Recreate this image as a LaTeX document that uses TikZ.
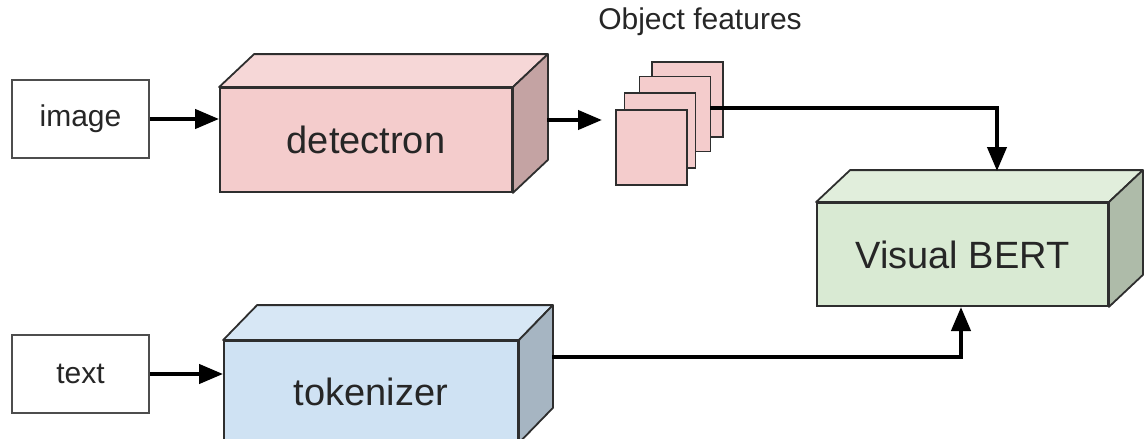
\documentclass[tikz,border=0pt]{standalone}
\usepackage{fontspec}
\setmainfont{Liberation Sans}
\usetikzlibrary{arrows.meta,calc}

\definecolor{edge}{HTML}{2E2E2E}
\definecolor{ink}{HTML}{262626}
\definecolor{detfront}{HTML}{F4CCCC}
\definecolor{dettop}{HTML}{F6D7D7}
\definecolor{detside}{HTML}{C4A3A3}
\definecolor{bertfront}{HTML}{D9EAD3}
\definecolor{berttop}{HTML}{E1EEDC}
\definecolor{bertside}{HTML}{AEBBA9}
\definecolor{tokfront}{HTML}{CFE2F3}
\definecolor{toktop}{HTML}{D7E7F5}
\definecolor{tokside}{HTML}{A6B5C2}

\tikzset{
  inbox/.style={draw=edge!85, line width=1.8pt, fill=white, minimum width=137pt,
    minimum height=78pt, inner sep=0pt, text=ink, font=\fontsize{30}{32}\selectfont},
  cubeface/.style={draw=edge, line width=1.8pt, inner sep=0pt, text=ink,
    font=\fontsize{38}{40}\selectfont},
  featsheet/.style={draw=edge, line width=1.8pt, fill=detfront, inner sep=0pt,
    minimum width=71pt, minimum height=75pt},
  flow/.style={line width=4.2pt, draw=black, -{Triangle[length=24pt,width=19pt]}},
  caption/.style={text=ink, font=\fontsize{30}{32}\selectfont}
}

% top and right faces of a box, drawn from the front face node
\newcommand{\boxsides}[5]{%
  \filldraw[draw=edge, line width=1.8pt, line join=round, fill=#4]
    (#1.north west) -- ++(#2,-#3) -- ($(#1.north east)+(#2,-#3)$) -- (#1.north east) -- cycle;
  \filldraw[draw=edge, line width=1.8pt, line join=round, fill=#5]
    (#1.north east) -- ++(#2,-#3) -- ($(#1.south east)+(#2,-#3)$) -- (#1.south east) -- cycle;
}

\begin{document}
\begin{tikzpicture}[x=1pt, y=-1pt]
  \useasboundingbox (0,0) rectangle (1144,439);
  \clip (0,0) rectangle (1144,439);

  % inputs
  \node[inbox] (img) at (80.5,119) {image};
  \node[inbox] (txt) at (80.5,374) {text};

  % detectron
  \node[cubeface, fill=detfront, minimum width=292pt, minimum height=104pt] (det) at (366,140) {detectron};
  \boxsides{det}{35}{33}{dettop}{detside}

  % tokenizer
  \node[cubeface, fill=tokfront, minimum width=294pt, minimum height=101pt] (tok) at (371,391.5) {\raisebox{-3pt}{tokenizer}};
  \boxsides{tok}{34}{35}{toktop}{tokside}

  % Visual BERT
  \node[cubeface, fill=bertfront, minimum width=291pt, minimum height=103pt] (bert) at (962.5,254.5) {\raisebox{-2pt}{Visual BERT}};
  \boxsides{bert}{34}{32}{berttop}{bertside}

  % stack of object feature maps
  \node[featsheet] (f1) at (687.5,99.5) {};
  \node[featsheet] (f2) at (675,114) {};
  \node[featsheet] (f3) at (660,130.5) {};
  \node[featsheet] (f4) at (651.5,147.5) {};
  \node[caption] (cap) at (700,22) {Object features};

  % connectors
  \coordinate (detout) at (547,120);
  \coordinate (featin) at (602,120);
  \coordinate (featout) at (710,108);
  \coordinate (bertin) at (997,171);
  \coordinate (tokout) at (552,357);
  \coordinate (bertlow) at (961,307);

  \draw[flow] (img.east) -- (det.west |- img.east);
  \draw[flow] (txt.east) -- (txt.east -| tok.west);
  \draw[flow] (detout) -- (featin);
  \draw[flow] (featout) -| (bertin);
  \draw[flow] (tokout) -| (bertlow);
\end{tikzpicture}
\end{document}
